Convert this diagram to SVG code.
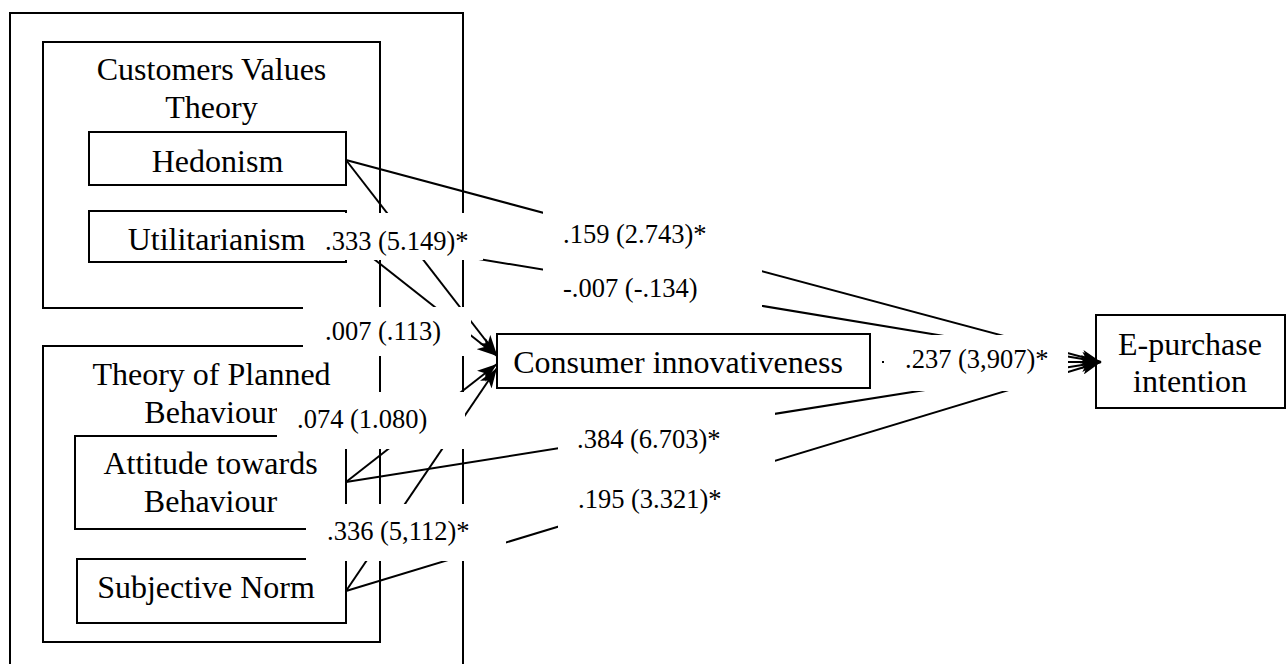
<svg xmlns="http://www.w3.org/2000/svg" width="1288" height="664" viewBox="0 0 1288 664">
<style>
.box{fill:none;stroke:#000;stroke-width:2}
.nbox{fill:#fff;stroke:#000;stroke-width:2}
.nt{font-family:"Liberation Serif","Times New Roman",serif;font-size:32px;fill:#000;text-anchor:middle}
.lt{font-family:"Liberation Serif","Times New Roman",serif;font-size:26.5px;fill:#000}
.lbg{fill:#fff;stroke:none}
.edge{stroke:#000;stroke-width:2;fill:none;marker-end:url(#ah)}
</style>
<defs>
<marker id="ah" markerUnits="userSpaceOnUse" markerWidth="20" markerHeight="14" refX="20" refY="7" orient="auto">
<path d="M0,0 L20,7 L0,14 L5,7 z" fill="#000"/>
</marker>
</defs>
<rect width="1288" height="664" fill="#fff"/>
<g id="outer-frame"><rect class="box" x="10" y="13" width="453" height="670"/></g>
<g id="customers-values-theory">
<rect class="box" x="43" y="42" width="337" height="266"/>
<text class="nt" x="211.5" y="80">Customers Values</text>
<text class="nt" x="211.5" y="118">Theory</text>
</g>
<g id="theory-planned-behaviour">
<rect class="box" x="43" y="346" width="337" height="296"/>
<text class="nt" x="211.5" y="385">Theory of Planned</text>
<text class="nt" x="211" y="423">Behaviour</text>
</g>
<g id="hedonism"><rect class="nbox" x="89" y="132" width="257" height="53"/><text class="nt" x="217.5" y="172">Hedonism</text></g>
<g id="utilitarianism"><rect class="nbox" x="89" y="211" width="257" height="51"/><text class="nt" x="216.5" y="250">Utilitarianism</text></g>
<g id="attitude"><rect class="nbox" x="75" y="436" width="271" height="93"/><text class="nt" x="210.5" y="474">Attitude towards</text><text class="nt" x="210.5" y="512">Behaviour</text></g>
<g id="subjective-norm"><rect class="nbox" x="77" y="559" width="269" height="64"/><text class="nt" x="206" y="598">Subjective Norm</text></g>
<g id="consumer-innovativeness"><rect class="nbox" x="497" y="334" width="373" height="54"/><text class="nt" x="678" y="373">Consumer innovativeness</text></g>
<g id="e-purchase-intention"><rect class="nbox" x="1096" y="315" width="189" height="93"/><text class="nt" x="1190" y="355">E-purchase</text><text class="nt" x="1190" y="392">intention</text></g>
<g id="connectors">
<line class="edge" x1="346" y1="160" x2="497" y2="355"/>
<line class="edge" x1="346" y1="237" x2="497" y2="356"/>
<line class="edge" x1="346" y1="482" x2="497" y2="364"/>
<line class="edge" x1="346" y1="591" x2="497" y2="368"/>
<line class="edge" x1="346" y1="160" x2="1101" y2="362"/>
<line class="edge" x1="346" y1="237" x2="1101" y2="362"/>
<line class="edge" x1="882" y1="362" x2="1101" y2="362"/>
<line class="edge" x1="346" y1="482" x2="1101" y2="362"/>
<line class="edge" x1="346" y1="591" x2="1101" y2="362"/>
</g>
<g id="edge-labels">
<rect class="lbg" x="320" y="213" width="163" height="47"/>
<text class="lt" x="325" y="250">.333 (5.149)*</text>
<rect class="lbg" x="303" y="307" width="168" height="49"/>
<text class="lt" x="325" y="340">.007 (.113)</text>
<rect class="lbg" x="277" y="392" width="188" height="57"/>
<text class="lt" x="297" y="428">.074 (1.080)</text>
<rect class="lbg" x="306" y="504" width="200" height="57"/>
<text class="lt" x="327" y="540">.336 (5,112)*</text>
<rect class="lbg" x="543" y="206" width="219" height="106"/>
<text class="lt" x="563" y="243">.159 (2.743)*</text>
<text class="lt" x="563" y="297">-.007 (-.134)</text>
<rect class="lbg" x="558" y="406" width="217" height="128"/>
<text class="lt" x="577" y="448">.384 (6.703)*</text>
<text class="lt" x="578" y="508">.195 (3.321)*</text>
<rect class="lbg" x="884" y="335" width="184" height="56"/>
<text class="lt" x="905" y="368">.237 (3,907)*</text>
</g>
</svg>
